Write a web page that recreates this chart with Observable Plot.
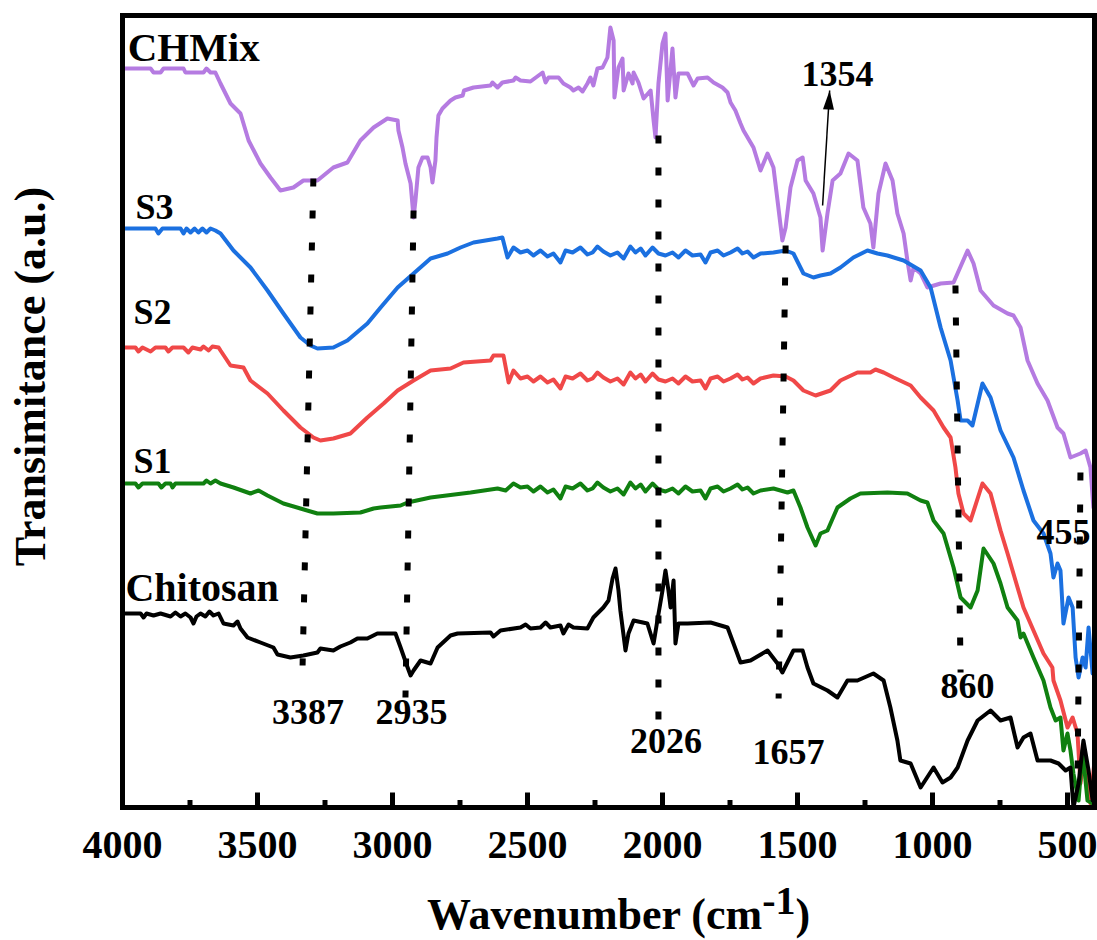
<!DOCTYPE html>
<html><head><meta charset="utf-8">
<script src="https://cdn.jsdelivr.net/npm/d3@7"></script>
<script src="https://cdn.jsdelivr.net/npm/@observablehq/plot@0.6"></script>
<style>body{margin:0;background:#fff} svg{display:block}</style>
</head><body><div id="chart"></div>
<script>
// [wavenumber (cm-1), transmittance (a.u., offset)]
const chmix = [[3993,73.9],[3896,73.9],[3885,73.5],[3859,73.5],[3848,73.9],[3774,73.9],[3767,73.5],[3700,73.5],[3689,73.9],[3674,73.5],[3656,73.5],[3637,72.4],[3600,70.4],[3563,69.4],[3533,66.7],[3489,64.4],[3452,63.0],[3415,61.7],[3367,62.0],[3330,62.7],[3278,62.7],[3219,64.0],[3167,64.5],[3119,66.7],[3070,68.0],[3019,68.9],[2981,68.7],[2978,67.7],[2963,66.0],[2952,64.4],[2933,62.4],[2922,59.0],[2915,60.7],[2904,64.0],[2889,65.0],[2870,65.0],[2859,64.0],[2852,62.5],[2841,64.7],[2837,67.0],[2830,69.2],[2815,69.9],[2785,70.7],[2767,71.0],[2740,71.2],[2735,71.7],[2700,72.0],[2637,72.2],[2630,72.5],[2611,72.0],[2593,72.5],[2552,72.7],[2544,73.0],[2526,72.7],[2489,72.6],[2459,73.2],[2444,73.5],[2433,72.5],[2422,73.0],[2385,73.0],[2367,72.4],[2341,72.0],[2330,71.7],[2311,72.0],[2296,71.6],[2278,72.4],[2267,73.0],[2256,72.2],[2241,73.9],[2222,74.0],[2204,75.0],[2193,78.0],[2181,76.7],[2178,71.0],[2163,74.0],[2148,74.9],[2144,71.7],[2126,73.4],[2111,72.4],[2107,73.5],[2089,72.5],[2070,70.9],[2044,71.7],[2033,68.7],[2026,67.0],[2015,72.4],[2000,76.4],[1989,77.4],[1981,70.7],[1963,75.9],[1952,71.0],[1941,73.4],[1907,73.4],[1885,72.2],[1870,72.9],[1833,73.0],[1811,72.5],[1778,72.0],[1759,71.5],[1748,70.5],[1730,69.7],[1711,68.4],[1700,67.7],[1663,66.0],[1637,63.7],[1611,65.4],[1589,64.0],[1574,60.7],[1556,56.7],[1544,58.0],[1526,62.0],[1500,64.7],[1481,65.0],[1470,62.7],[1441,61.4],[1415,59.0],[1407,55.7],[1389,59.4],[1370,62.7],[1341,63.4],[1311,65.4],[1278,64.7],[1256,60.0],[1230,58.4],[1219,56.0],[1200,61.4],[1174,64.4],[1148,62.7],[1130,59.4],[1107,57.4],[1093,54.7],[1081,52.7],[1070,54.0],[1044,53.4],[1019,52.0],[970,52.4],[922,52.5],[870,55.7],[848,54.4],[822,51.7],[774,50.2],[722,49.4],[700,49.2],[674,48.0],[648,44.7],[611,42.4],[574,40.7],[537,38.0],[515,37.4],[489,35.0],[452,35.4],[433,35.7],[415,34.0],[404,30.0]];

const s3 = [[3993,57.9],[3878,57.9],[3867,57.4],[3852,57.9],[3785,57.9],[3774,57.4],[3763,57.9],[3748,57.5],[3733,57.9],[3719,57.5],[3704,57.9],[3689,57.5],[3674,57.9],[3656,57.7],[3637,57.4],[3589,55.7],[3526,54.0],[3463,51.7],[3404,49.4],[3341,47.0],[3304,46.2],[3278,45.9],[3219,46.0],[3167,46.7],[3093,48.4],[3044,50.0],[2981,52.0],[2922,53.4],[2859,54.9],[2796,55.4],[2748,56.0],[2700,56.5],[2611,56.9],[2593,57.0],[2574,55.0],[2552,56.0],[2526,55.5],[2500,55.7],[2478,55.2],[2452,55.7],[2426,55.1],[2404,55.4],[2378,54.5],[2359,55.7],[2333,55.5],[2304,56.0],[2278,55.3],[2259,55.5],[2241,56.1],[2219,55.6],[2193,55.2],[2167,55.5],[2144,54.9],[2119,56.1],[2100,55.5],[2081,55.9],[2063,55.2],[2037,56.0],[2015,55.4],[1989,55.2],[1963,55.5],[1941,55.0],[1915,55.7],[1889,55.2],[1859,55.3],[1841,54.5],[1822,55.5],[1796,55.7],[1774,55.2],[1748,55.5],[1722,55.9],[1704,55.4],[1685,55.6],[1663,55.0],[1637,55.4],[1589,55.5],[1544,55.7],[1515,55.4],[1478,53.4],[1441,53.0],[1415,53.2],[1378,53.4],[1341,54.0],[1293,55.0],[1241,55.7],[1204,55.4],[1167,55.2],[1107,54.7],[1044,53.7],[1007,52.0],[970,48.0],[933,44.7],[907,40.7],[896,38.7],[870,38.7],[852,38.2],[815,42.4],[785,41.0],[748,37.7],[700,35.0],[663,31.7],[626,28.7],[589,27.4],[563,25.4],[552,23.0],[537,24.4],[526,23.7],[515,18.4],[496,21.0],[481,20.0],[470,15.0],[459,13.0],[444,15.0],[433,14.0],[422,18.0],[407,13.4],[401,15.4]];

const s2 = [[3993,46.0],[3952,46.0],[3941,45.6],[3926,46.0],[3896,45.6],[3878,46.0],[3841,46.0],[3830,45.6],[3815,46.0],[3774,46.0],[3756,45.5],[3741,46.0],[3711,45.8],[3700,46.1],[3681,45.7],[3667,46.1],[3644,46.0],[3637,45.7],[3600,44.2],[3552,44.0],[3526,42.7],[3463,41.4],[3404,39.7],[3341,38.0],[3293,37.0],[3267,36.7],[3219,36.9],[3156,37.4],[3093,39.0],[3033,40.4],[2981,41.7],[2922,42.7],[2859,43.7],[2785,43.9],[2737,44.5],[2637,44.7],[2626,45.2],[2589,45.2],[2570,42.5],[2552,43.7],[2526,42.9],[2500,43.1],[2478,42.6],[2452,43.1],[2426,42.5],[2404,42.8],[2378,41.9],[2359,43.1],[2333,42.9],[2304,43.4],[2278,42.7],[2259,42.9],[2241,43.5],[2219,43.0],[2193,42.6],[2167,42.9],[2144,42.3],[2119,43.5],[2100,42.9],[2081,43.3],[2063,42.6],[2037,43.4],[2015,42.8],[1989,42.6],[1963,42.9],[1941,42.4],[1915,43.1],[1889,42.6],[1859,42.7],[1841,41.9],[1822,42.9],[1796,43.1],[1774,42.6],[1748,42.9],[1722,43.3],[1704,42.8],[1685,43.0],[1663,42.4],[1637,42.9],[1589,43.2],[1544,43.1],[1515,42.7],[1478,41.7],[1433,41.2],[1378,41.7],[1341,42.7],[1278,43.5],[1230,43.5],[1211,43.8],[1181,43.5],[1144,43.0],[1081,42.2],[1044,41.0],[996,39.7],[959,38.0],[933,37.0],[915,34.0],[904,31.4],[885,29.4],[859,28.7],[815,32.4],[785,31.4],[748,27.7],[722,25.4],[685,22.0],[663,20.0],[626,17.7],[589,15.4],[556,14.0],[552,12.7],[526,10.7],[500,8.0],[481,9.0],[463,7.4],[452,2.4],[441,4.7],[415,0.4],[401,4.4]];

const s1 = [[3989,32.4],[3952,32.4],[3941,32.0],[3926,32.4],[3867,32.4],[3856,32.0],[3841,32.4],[3822,32.4],[3815,32.0],[3804,32.4],[3700,32.4],[3689,32.7],[3674,32.4],[3656,32.7],[3637,32.4],[3589,32.0],[3526,31.4],[3496,31.7],[3463,31.2],[3404,30.4],[3341,29.9],[3278,29.4],[3219,29.4],[3119,29.5],[3070,29.9],[3044,30.0],[2970,30.2],[2944,30.5],[2859,31.0],[2711,31.5],[2611,31.9],[2581,31.7],[2552,32.4],[2526,32.0],[2500,32.1],[2478,31.6],[2452,32.1],[2426,31.5],[2404,31.8],[2378,30.9],[2359,32.1],[2333,31.9],[2304,32.4],[2278,31.7],[2259,31.9],[2241,32.5],[2219,32.0],[2193,31.6],[2167,31.9],[2144,31.3],[2119,32.5],[2100,31.9],[2081,32.3],[2063,31.6],[2037,32.4],[2015,31.8],[1989,31.6],[1963,31.9],[1941,31.4],[1915,32.1],[1889,31.6],[1859,31.7],[1841,30.9],[1822,31.9],[1796,32.1],[1774,31.6],[1748,31.9],[1722,32.3],[1704,31.8],[1685,32.0],[1663,31.4],[1637,31.7],[1589,31.9],[1537,31.5],[1515,31.7],[1489,30.0],[1463,28.0],[1433,26.2],[1415,27.4],[1389,27.7],[1352,30.0],[1304,30.9],[1267,31.4],[1167,31.5],[1093,31.4],[1044,30.7],[1019,30.5],[996,28.7],[959,27.4],[922,24.0],[896,21.0],[859,20.0],[833,21.7],[811,25.9],[774,24.4],[748,22.4],[722,20.0],[685,18.7],[674,17.0],[663,17.4],[626,15.0],[589,12.7],[563,10.0],[544,8.7],[526,9.0],[515,5.7],[500,7.4],[489,5.7],[478,3.4],[459,0.7],[444,5.7],[426,0.7],[407,0.4]];

const chitosan = [[3989,19.4],[3933,19.4],[3922,19.0],[3911,19.4],[3885,19.2],[3859,19.4],[3822,19.1],[3804,19.5],[3785,19.1],[3767,19.4],[3748,19.0],[3737,18.4],[3726,19.1],[3711,19.4],[3693,19.1],[3678,19.6],[3663,19.2],[3644,19.4],[3626,18.4],[3589,18.2],[3574,18.6],[3563,17.9],[3537,17.0],[3489,16.5],[3441,16.0],[3426,15.3],[3378,15.0],[3330,15.2],[3278,15.5],[3267,15.9],[3219,15.7],[3193,16.1],[3156,16.5],[3130,16.9],[3093,16.9],[3056,17.4],[2989,17.4],[2970,16.0],[2944,14.0],[2933,13.2],[2922,13.7],[2896,14.7],[2859,14.4],[2833,16.0],[2785,17.2],[2759,17.4],[2637,17.5],[2626,17.1],[2600,17.7],[2526,18.0],[2507,18.3],[2489,17.9],[2452,18.0],[2433,18.5],[2415,18.0],[2378,18.2],[2367,17.4],[2348,18.3],[2330,18.0],[2278,17.9],[2256,19.0],[2219,20.0],[2200,20.7],[2185,22.9],[2174,23.9],[2163,21.7],[2156,19.7],[2137,15.7],[2126,17.4],[2107,18.7],[2056,18.4],[2033,16.4],[2019,18.7],[2000,21.7],[1989,23.7],[1978,21.7],[1970,20.0],[1959,22.7],[1952,16.4],[1941,18.4],[1907,18.4],[1822,18.5],[1759,18.0],[1737,16.4],[1711,14.5],[1674,14.7],[1611,15.7],[1574,14.4],[1556,13.5],[1515,15.7],[1481,15.7],[1463,14.0],[1441,12.4],[1389,11.7],[1352,11.0],[1315,12.7],[1278,12.7],[1219,13.4],[1181,12.7],[1156,10.0],[1130,6.7],[1119,4.7],[1081,4.4],[1044,2.0],[996,4.0],[963,2.5],[933,3.0],[907,4.0],[870,6.7],[833,8.7],[785,9.7],[748,8.7],[711,9.0],[685,6.0],[663,7.0],[637,7.4],[611,4.7],[563,4.7],[533,4.4],[507,3.7],[489,4.0],[478,0.0],[459,2.4],[441,6.7],[422,3.7],[407,0.7]];

const seriesNames = ["CHMix", "S3", "S2", "S1", "Chitosan"];
const seriesColors = ["#b57be1", "#1b70e0", "#f04848", "#108010", "#000000"];
const seriesData = [chmix, s3, s2, s1, chitosan];
const seriesLabelW = [3981, 3952, 3959, 3959, 3989];
const seriesLabelV = [76.0, 60.0, 49.5, 34.6, 21.9];
const seriesLabelSize = [41, 36, 36, 36, 40];

// peak marker lines
const markLabel = ["3387", "2935", "2026", "1657", "860", "455"];
const markTopW = [3293, 2922, 2015, 1544, 915, 452];
const markTopV = [62.9, 59.7, 67.2, 56.2, 52.2, 33.5];
const markBotW = [3333, 2952, 2015, 1570, 896, 463];
const markBotV = [14.2, 11.0, 8.7, 10.9, 13.5, 1.7];
const markLabelW = [3313, 2930, 1987, 1533, 870, 515];
const markLabelV = [9.55, 9.55, 6.65, 5.55, 12.15, 27.55];

// 1354 arrow annotation
const arrowLabel = "1354";
const arrowFrom = [1407, 60.2];
const arrowTo = [1381, 71.7];
const arrowLabelPos = [1352, 73.35];

const majorTicks = [4000, 3500, 3000, 2500, 2000, 1500, 1000, 500];
const minorTicks = [3750, 3250, 2750, 2250, 1750, 1250, 750];
const majorTickLen = 1.5;  // inward tick length, y units
const minorTickLen = 0.75;

const font = "'Liberation Serif','Times New Roman',serif";

const toRows = (pts) => pts.map(([w, v]) => ({w, v}));
const marks = [];
seriesData.forEach((pts, i) => {
  marks.push(Plot.line(toRows(pts), {x: "w", y: "v", stroke: seriesColors[i], strokeWidth: 4, strokeLinejoin: "round"}));
});
const markRows = markLabel.map((l, i) => ({l, x1: markTopW[i], y1: markTopV[i], x2: markBotW[i], y2: markBotV[i], lx: markLabelW[i], ly: markLabelV[i]}));
marks.push(Plot.link(markRows, {x1: "x1", y1: "y1", x2: "x2", y2: "y2", stroke: "black", strokeWidth: 6, strokeDasharray: "8,24"}));
marks.push(Plot.text(markRows, {x: "lx", y: "ly", text: "l", fontSize: 36, fontWeight: "bold", fontFamily: font, fill: "black"}));
marks.push(Plot.link([{}], {x1: () => arrowFrom[0], y1: () => arrowFrom[1], x2: () => arrowTo[0], y2: () => arrowTo[1], stroke: "black", strokeWidth: 1.5}));
const headSymbol = {draw(ctx) { ctx.moveTo(0, 0); ctx.lineTo(-5.5, 19); ctx.lineTo(5.5, 19); ctx.closePath(); }};
marks.push(Plot.dot([{}], {x: () => arrowTo[0], y: () => arrowTo[1], symbol: headSymbol, r: 5, fill: "black", stroke: "none", rotate: 3.5}));
marks.push(Plot.text([arrowLabel], {x: () => arrowLabelPos[0], y: () => arrowLabelPos[1], text: d => d, fontSize: 36, fontWeight: "bold", fontFamily: font, fill: "black"}));
seriesNames.forEach((n, i) => {
  marks.push(Plot.text([n], {x: () => seriesLabelW[i], y: () => seriesLabelV[i], text: d => d, textAnchor: "start", fontSize: seriesLabelSize[i], fontWeight: "bold", fontFamily: font, fill: "black"}));
});
// inward x-axis ticks
const tickRows = [
  ...majorTicks.map(t => ({t, len: majorTickLen})),
  ...minorTicks.map(t => ({t, len: minorTickLen}))
];
marks.push(Plot.link(tickRows, {x1: "t", x2: "t", y1: () => 0, y2: "len", stroke: "black", strokeWidth: 5}));
marks.push(Plot.axisX({ticks: majorTicks, tickSize: 0, tickPadding: 22, tickFormat: d => String(d), fontSize: 40, fontWeight: "bold", fontFamily: font, label: null, fill: "black"}));
marks.push(Plot.frame({stroke: "black", strokeWidth: 5}));
marks.push(Plot.text(["Transimitance (a.u.)"], {frameAnchor: "left", textAnchor: "middle", lineAnchor: "middle", rotate: -90, dx: -92, dy: -35, text: d => d, fontSize: 44, fontWeight: "bold", fontFamily: font, fill: "black"}));
marks.push(Plot.text(["Wavenumber (cm-1)"], {frameAnchor: "bottom", textAnchor: "middle", lineAnchor: "middle", dx: 10, dy: 107, text: d => d, fontSize: 44, fontWeight: "bold", fontFamily: font, fill: "black"}));

const chart = Plot.plot({
  width: 1097, height: 940,
  marginLeft: 122, marginRight: 3, marginTop: 15, marginBottom: 133,
  x: {domain: [4000, 400]},
  y: {domain: [0, 79.2], axis: null},
  style: {fontFamily: font, background: "white", color: "black"},
  marks
});
document.getElementById("chart").appendChild(chart);

// superscript in x-axis title
d3.select(chart).selectAll("text").each(function () {
  if (this.textContent === "Wavenumber (cm-1)") {
    const t = d3.select(this);
    t.text(null);
    t.append("tspan").text("Wavenumber (cm");
    t.append("tspan").attr("dy", -15).attr("font-size", 40).text("-1");
    t.append("tspan").attr("dy", 15).text(")");
  }
});
</script>
</body></html>
